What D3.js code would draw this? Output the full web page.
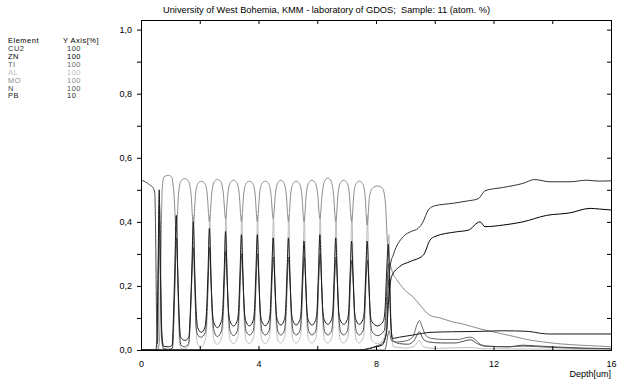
<!DOCTYPE html>
<html><head><meta charset="utf-8">
<script src="https://cdn.jsdelivr.net/npm/d3@7"></script>
<style>
body{margin:0;background:#fff}
svg{display:block}
text{font-family:"Liberation Sans",Arial,sans-serif;white-space:pre}
</style>
</head><body>
<svg id="chart" width="621" height="381"></svg>
<script>
// ---------------- DATA ----------------
const titleText = "University of West Bohemia, KMM - laboratory of GDOS;  Sample: 11 (atom. %)";
const elements = ["CU2","ZN","TI","AL","MO","N","PB"];
const yAxisPct = ["100","100","100","100","100","100","10"];
const colors = ["#333333","#000000","#666666","#bdbdbd","#8c8c8c","#4d4d4d","#1a1a1a"];
const xLabelTicks = [0,4,8,12,16];
const xMinorTicks = [0,2,4,6,8,10,12,14,16];
const yTicks = [0,0.1,0.2,0.3,0.4,0.5,0.6,0.7,0.8,0.9,1.0];
const yLabelTicks = [0,0.2,0.4,0.6,0.8,1.0];

// [depth um, fraction]
const CU2 = [[0,0],[7.3,0],[7.8,0.005],[8.0,0.012],[8.2,0.02],[8.35,0.05],[8.42,0.2],[8.48,0.26],[8.6,0.3],[8.93,0.354],[9.2,0.37],[9.44,0.38],[9.6,0.4],[9.78,0.437],[10.0,0.45],[10.63,0.458],[11.1,0.465],[11.48,0.472],[11.71,0.497],[12.3,0.507],[13.0,0.52],[13.4,0.532],[13.92,0.525],[14.6,0.525],[15.17,0.53],[15.6,0.527],[16,0.528]];

const ZN = [[0,0],[7.5,0],[7.9,0.008],[8.2,0.015],[8.35,0.05],[8.45,0.18],[8.53,0.229],[8.8,0.26],[9.16,0.276],[9.61,0.296],[9.84,0.343],[10.0,0.354],[10.75,0.369],[11.14,0.374],[11.54,0.4],[11.71,0.385],[12.33,0.39],[13.0,0.4],[13.8,0.42],[14.6,0.428],[15.29,0.442],[15.6,0.44],[16,0.437]];

const TI = [[0,0],[8.3,0],[8.45,0.06],[8.52,0.03],[8.7,0.025],[9.0,0.028],[9.25,0.04],[9.4,0.08],[9.48,0.092],[9.56,0.075],[9.7,0.045],[9.9,0.036],[10.3,0.033],[10.8,0.033],[11.05,0.038],[11.2,0.04],[11.35,0.035],[11.55,0.018],[11.8,0.012],[12.5,0.01],[13,0.012],[14,0.008],[15,0.005],[16,0.004]];

const AL = [[0,0],[0.55,0],[0.6,0.12],[0.64,0.4],[0.68,0.2],[0.72,0.02],[0.78,0],[1.06,0],[1.11,0.06],[1.16,0.25],[1.21,0.42],[1.25,0.22],[1.3,0.04],[1.36,0.005],[1.49,0.003],[1.62,0.012],[1.68,0.1],[1.74,0.26],[1.79,0.42],[1.83,0.24],[1.88,0.06],[1.94,0.015],[2.05,0.01],[2.2,0.035],
[2.26,0.12],[2.3,0.28],[2.34,0.42],[2.38,0.26],[2.43,0.08],[2.49,0.03],[2.6,0.018],[2.75,0.04],
[2.81,0.12],[2.85,0.28],[2.89,0.42],[2.93,0.26],[2.98,0.08],[3.04,0.03],[3.15,0.02],[3.29,0.04],
[3.35,0.12],[3.39,0.28],[3.43,0.42],[3.47,0.26],[3.52,0.08],[3.58,0.03],[3.69,0.02],[3.83,0.04],
[3.89,0.12],[3.93,0.28],[3.97,0.42],[4.01,0.26],[4.06,0.08],[4.12,0.03],[4.23,0.02],[4.37,0.04],
[4.43,0.12],[4.47,0.28],[4.51,0.42],[4.55,0.26],[4.6,0.08],[4.66,0.03],[4.76,0.022],[4.89,0.04],
[4.95,0.12],[4.99,0.28],[5.03,0.42],[5.07,0.26],[5.12,0.08],[5.18,0.03],[5.28,0.022],[5.42,0.04],
[5.48,0.12],[5.52,0.28],[5.56,0.42],[5.6,0.26],[5.65,0.08],[5.71,0.03],[5.82,0.022],[5.96,0.04],
[6.02,0.12],[6.06,0.28],[6.1,0.42],[6.14,0.26],[6.19,0.08],[6.25,0.03],[6.36,0.022],[6.5,0.04],
[6.56,0.12],[6.6,0.28],[6.64,0.42],[6.68,0.26],[6.73,0.08],[6.79,0.03],[6.9,0.022],[7.04,0.04],
[7.1,0.12],[7.14,0.28],[7.18,0.42],[7.22,0.26],[7.27,0.08],[7.33,0.03],[7.43,0.022],[7.57,0.04],
[7.63,0.12],[7.67,0.28],[7.71,0.42],[7.75,0.26],[7.8,0.08],[7.86,0.03],[8.05,0.02],[8.29,0.04],
[8.35,0.12],[8.39,0.26],[8.44,0.36],[8.48,0.2],[8.53,0.05],[8.6,0.01],[9.0,0.006],[9.3,0.012],[9.48,0.03],[9.62,0.01],[10,0.005],[11.2,0.008],[11.6,0.004],[16,0.002]];

const MO = [[0,0],[0.58,0],[0.64,0.05],[0.68,0.3],[0.72,0.5],[0.78,0.54],[0.93,0.545],[1.04,0.54],[1.12,0.49],[1.2,0.37],
[1.28,0.49],[1.36,0.527],[1.49,0.535],[1.62,0.527],[1.7,0.49],[1.78,0.39],
[1.86,0.49],[1.94,0.52],[2.05,0.527],[2.17,0.52],[2.25,0.49],[2.33,0.4],
[2.41,0.49],[2.49,0.525],[2.6,0.532],[2.72,0.525],[2.8,0.49],[2.88,0.41],
[2.96,0.49],[3.04,0.522],[3.15,0.53],[3.26,0.522],[3.34,0.49],[3.42,0.4],
[3.5,0.49],[3.58,0.52],[3.69,0.527],[3.8,0.52],[3.88,0.49],[3.96,0.4],
[4.04,0.49],[4.12,0.52],[4.23,0.527],[4.34,0.52],[4.42,0.49],[4.5,0.41],
[4.58,0.49],[4.66,0.522],[4.76,0.53],[4.86,0.522],[4.94,0.49],[5.02,0.4],
[5.1,0.49],[5.18,0.52],[5.28,0.527],[5.39,0.52],[5.47,0.49],[5.55,0.4],
[5.63,0.49],[5.71,0.522],[5.82,0.53],[5.93,0.522],[6.01,0.49],[6.09,0.41],
[6.17,0.49],[6.25,0.527],[6.36,0.537],[6.47,0.527],[6.55,0.49],[6.63,0.4],
[6.71,0.49],[6.79,0.522],[6.9,0.53],[7.01,0.522],[7.09,0.49],[7.17,0.4],
[7.25,0.49],[7.33,0.52],[7.43,0.527],[7.54,0.52],[7.62,0.49],[7.7,0.39],
[7.78,0.48],[7.88,0.505],[8.05,0.512],[8.22,0.505],[8.32,0.46],[8.38,0.35],[8.44,0.29],[8.52,0.255],[8.7,0.22],[8.82,0.205],[9.0,0.185],[9.26,0.166],[9.5,0.14],[9.84,0.108],[10.18,0.1],[10.6,0.088],[10.96,0.081],[11.54,0.066],[12.22,0.052],[12.8,0.04],[13.24,0.031],[13.7,0.025],[14.15,0.02],[14.6,0.017],[15.17,0.014],[15.6,0.012],[16,0.01]];

const N = [[0,0.53],[0.15,0.525],[0.3,0.515],[0.42,0.505],[0.47,0.49],[0.5,0.35],[0.53,0.1],[0.56,0.02],[0.6,0.3],[0.63,0.45],[0.67,0.2],[0.71,0.03],[0.77,0.005],[0.93,0.002],[1.07,0.006],
[1.11,0.08],[1.16,0.22],[1.21,0.35],[1.26,0.2],[1.31,0.06],[1.36,0.015],[1.49,0.01],[1.62,0.02],
[1.67,0.08],[1.72,0.2],[1.78,0.32],[1.83,0.2],[1.88,0.07],[1.94,0.045],[2.05,0.04],[2.19,0.055],
[2.24,0.11],[2.285,0.21],[2.34,0.32],[2.39,0.2],[2.44,0.1],[2.49,0.058],[2.6,0.042],[2.74,0.06],
[2.79,0.11],[2.835,0.21],[2.89,0.31],[2.94,0.2],[2.99,0.1],[3.04,0.058],[3.15,0.045],[3.28,0.06],
[3.33,0.11],[3.375,0.21],[3.43,0.3],[3.48,0.2],[3.53,0.1],[3.58,0.058],[3.69,0.047],[3.82,0.06],
[3.87,0.11],[3.915,0.21],[3.97,0.3],[4.02,0.2],[4.07,0.1],[4.12,0.058],[4.23,0.047],[4.36,0.06],
[4.41,0.11],[4.455,0.21],[4.51,0.29],[4.56,0.2],[4.61,0.1],[4.66,0.058],[4.76,0.047],[4.88,0.06],
[4.93,0.11],[4.975,0.21],[5.03,0.29],[5.08,0.2],[5.13,0.1],[5.18,0.058],[5.28,0.047],[5.41,0.06],
[5.46,0.11],[5.505,0.21],[5.56,0.29],[5.61,0.2],[5.66,0.1],[5.71,0.058],[5.82,0.047],[5.95,0.06],
[6.0,0.11],[6.045,0.21],[6.1,0.3],[6.15,0.2],[6.2,0.1],[6.25,0.058],[6.36,0.047],[6.49,0.06],
[6.54,0.11],[6.585,0.21],[6.64,0.29],[6.69,0.2],[6.74,0.1],[6.79,0.058],[6.9,0.047],[7.03,0.06],
[7.08,0.11],[7.125,0.21],[7.18,0.28],[7.23,0.2],[7.28,0.1],[7.33,0.058],[7.43,0.047],[7.56,0.06],
[7.61,0.11],[7.655,0.21],[7.71,0.28],[7.76,0.2],[7.81,0.1],[7.86,0.058],[8.05,0.045],[8.28,0.06],
[8.33,0.11],[8.38,0.2],[8.43,0.27],[8.47,0.19],[8.51,0.08],[8.57,0.03],[8.8,0.02],[9.1,0.018],[9.3,0.03],[9.48,0.057],[9.6,0.035],[9.8,0.025],[10.2,0.022],[10.7,0.022],[11.0,0.028],[11.2,0.032],[11.45,0.02],[11.7,0.012],[12.5,0.01],[13.0,0.015],[13.4,0.013],[14,0.01],[15,0.006],[16,0.004]];

const PB = [[0,0],[0.5,0],[0.54,0.03],[0.58,0.25],[0.62,0.5],[0.66,0.25],[0.71,0.05],[0.77,0.012],[0.93,0.01],[1.06,0.015],
[1.11,0.12],[1.15,0.25],[1.2,0.42],[1.25,0.25],[1.3,0.1],[1.35,0.04],[1.49,0.03],[1.63,0.04],
[1.68,0.12],[1.73,0.25],[1.78,0.4],[1.83,0.24],[1.88,0.12],[1.93,0.07],[2.05,0.055],[2.18,0.072],
[2.23,0.12],[2.28,0.24],[2.33,0.38],[2.38,0.23],[2.43,0.12],[2.48,0.085],[2.6,0.07],[2.73,0.088],
[2.78,0.12],[2.83,0.24],[2.88,0.37],[2.93,0.23],[2.98,0.12],[3.03,0.09],[3.15,0.075],[3.27,0.09],
[3.32,0.12],[3.37,0.24],[3.42,0.36],[3.47,0.23],[3.52,0.12],[3.57,0.09],[3.69,0.075],[3.81,0.09],
[3.86,0.12],[3.91,0.24],[3.96,0.36],[4.01,0.23],[4.06,0.12],[4.11,0.09],[4.23,0.076],[4.35,0.09],
[4.4,0.12],[4.45,0.24],[4.5,0.35],[4.55,0.23],[4.6,0.12],[4.65,0.092],[4.76,0.078],[4.87,0.092],
[4.92,0.12],[4.97,0.24],[5.02,0.35],[5.07,0.23],[5.12,0.12],[5.17,0.092],[5.28,0.078],[5.4,0.092],
[5.45,0.12],[5.5,0.24],[5.55,0.34],[5.6,0.23],[5.65,0.12],[5.7,0.092],[5.82,0.078],[5.94,0.092],
[5.99,0.12],[6.04,0.24],[6.09,0.36],[6.14,0.23],[6.19,0.12],[6.24,0.094],[6.36,0.08],[6.48,0.094],
[6.53,0.12],[6.58,0.24],[6.63,0.35],[6.68,0.23],[6.73,0.12],[6.78,0.094],[6.9,0.08],[7.02,0.094],
[7.07,0.12],[7.12,0.24],[7.17,0.34],[7.22,0.23],[7.27,0.12],[7.32,0.094],[7.43,0.08],[7.55,0.094],
[7.6,0.12],[7.65,0.24],[7.7,0.34],[7.75,0.23],[7.8,0.12],[7.85,0.09],[8.05,0.075],[8.25,0.09],
[8.31,0.13],[8.36,0.24],[8.42,0.33],[8.46,0.22],[8.5,0.09],[8.56,0.036],[8.8,0.04],[9.27,0.047],[9.84,0.055],[10.6,0.057],[11.5,0.058],[12.3,0.06],[13.2,0.058],[13.6,0.052],[13.9,0.05],[16,0.05]];

const seriesData = [CU2, ZN, TI, AL, MO, N, PB];
const drawOrder = [3, 4, 2, 5, 6, 1, 0];

// ---------------- CHART ----------------
const svg = d3.select("#chart");
const x = d3.scaleLinear().domain([0,16]).range([141,611]);
const y = d3.scaleLinear().domain([0,1.03]).range([350,20]);
const fmt = d => d3.format(".1f")(d).replace(".", ",");

// title
svg.append("text").attr("x",163).attr("y",13).attr("font-size",9).attr("fill","#000")
  .attr("textLength",327).attr("lengthAdjust","spacingAndGlyphs").text(titleText);

// legend
const leg = svg.append("g").attr("font-size",7.5).attr("letter-spacing",0.5);
leg.append("text").attr("x",8).attr("y",42.5).text("Element");
leg.append("text").attr("x",63).attr("y",42.5).text("Y Axis[%]");
elements.forEach((e,i) => {
  const yy = 51 + i*7.9;
  leg.append("text").attr("x",8).attr("y",yy).attr("fill",colors[i]).text(e);
  leg.append("text").attr("x",67).attr("y",yy).attr("fill",colors[i]).text(yAxisPct[i]);
});

// lines
const line = d3.line().x(d => x(d[0])).y(d => y(d[1])).curve(d3.curveMonotoneX);
const plot = svg.append("g");
drawOrder.forEach(i => {
  plot.append("path").datum(seriesData[i]).attr("d", line)
    .attr("fill","none").attr("stroke",colors[i]).attr("stroke-width",1);
});

// axes
function clean(g){ g.select(".domain").remove(); g.selectAll("line").attr("stroke","#000"); g.selectAll("text").attr("font-size",9).attr("font-family","Liberation Sans, Arial, sans-serif").attr("fill","#000"); }
svg.append("g").attr("transform","translate(141,0)")
  .call(d3.axisLeft(y).tickValues(yTicks).tickSize(4).tickPadding(5)
    .tickFormat(d => yLabelTicks.some(v => Math.abs(v-d)<1e-6) ? fmt(d) : ""))
  .call(clean);
svg.append("g").attr("transform","translate(611,0)")
  .call(d3.axisLeft(y).tickValues(yTicks).tickSize(4).tickFormat(""))
  .call(clean);
svg.append("g").attr("transform","translate(0,20)")
  .call(d3.axisBottom(x).tickValues(xMinorTicks).tickSize(4).tickFormat(""))
  .call(clean);
svg.append("g").attr("transform","translate(0,350)")
  .call(d3.axisTop(x).tickValues(xMinorTicks).tickSize(4).tickFormat(""))
  .call(clean);
svg.append("g").attr("transform","translate(0,350)")
  .call(d3.axisBottom(x).tickValues(xLabelTicks).tickSize(0).tickPadding(11).tickFormat(d3.format("d")))
  .call(clean);

// frame
svg.append("rect").attr("x",141.5).attr("y",20.5).attr("width",470).attr("height",330)
  .attr("fill","none").attr("stroke","#000").attr("stroke-width",1);

svg.append("text").attr("x",611).attr("y",377).attr("text-anchor","end").attr("font-size",9).text("Depth[um]");
</script>
</body></html>
